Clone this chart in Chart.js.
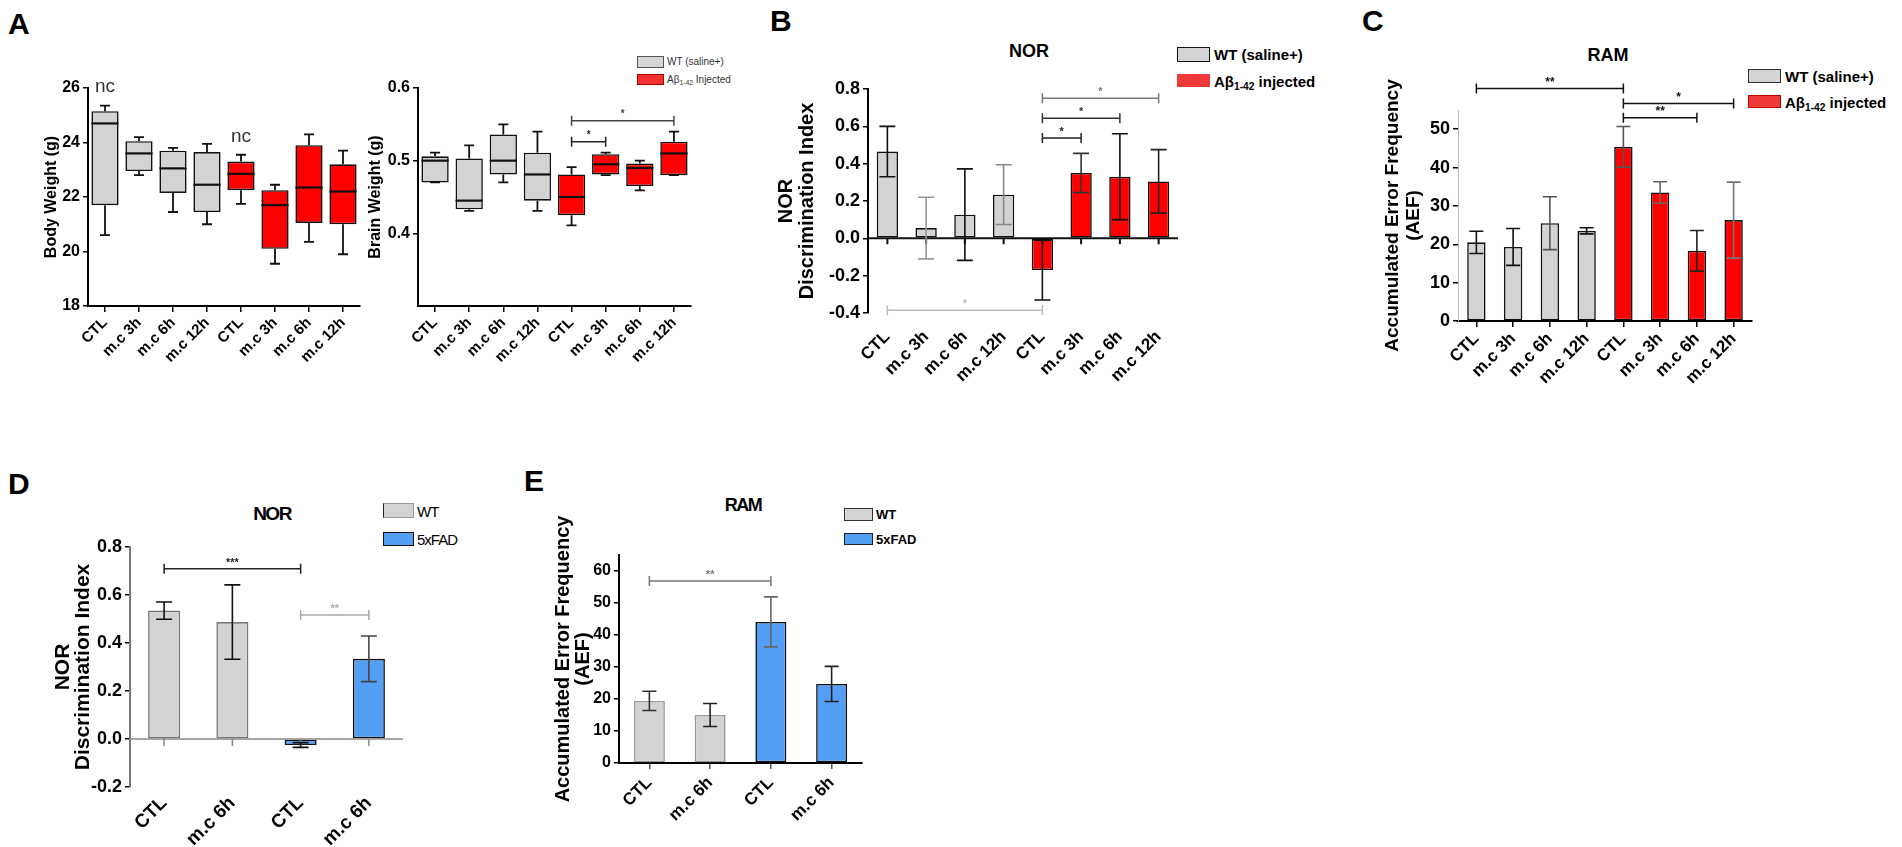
<!DOCTYPE html>
<html>
<head>
<meta charset="utf-8">
<script src="https://cdn.jsdelivr.net/npm/chart.js@4.4.1/dist/chart.umd.min.js"></script>
<style>
  body { margin: 0; width: 1902px; height: 847px; background: #fff; position: relative; overflow: hidden;
         font-family: 'Liberation Sans', Arial, sans-serif; color: #000; }
  canvas { position: absolute; }
  .t { position: absolute; line-height: 1; white-space: nowrap; }
  .letter { font-size: 30px; font-weight: bold; }
  .title { font-weight: bold; text-align: center; width: 100px; }
  .sw { position: absolute; box-sizing: border-box; }
  sub { font-size: 0.68em; vertical-align: -0.25em; line-height: 0; }
</style>
</head>
<body>

<!-- panel letters -->
<div class="t letter" style="left:8px; top:9px">A</div>
<div class="t letter" style="left:770px; top:6px">B</div>
<div class="t letter" style="left:1362px; top:6px">C</div>
<div class="t letter" style="left:8px; top:469px">D</div>
<div class="t letter" style="left:524px; top:466px">E</div>

<!-- titles -->
<div class="t title" style="left:979px; top:42px; font-size:18px">NOR</div>
<div class="t title" style="left:1558px; top:46px; font-size:18px">RAM</div>
<div class="t title" style="left:222px; top:504px; font-size:19px; letter-spacing:-1.5px">NOR</div>
<div class="t title" style="left:693px; top:496px; font-size:18px; letter-spacing:-1.5px">RAM</div>

<!-- legends -->
<div class="sw" style="left:637px; top:56px; width:27px; height:12px; background:#d6d6d6; border:1px solid #555"></div>
<div class="sw" style="left:637px; top:74px; width:27px; height:11px; background:#f23030; border:1px solid #a00"></div>
<div class="t" style="left:667px; top:57px; font-size:10px; color:#333">WT (saline+)</div>
<div class="t" style="left:667px; top:75px; font-size:10px; color:#333">Aβ<sub>1-42</sub> Injected</div>

<div class="sw" style="left:1177px; top:47px; width:33px; height:15px; background:#d3d3d3; border:1.5px solid #111"></div>
<div class="sw" style="left:1177px; top:74px; width:33px; height:13px; background:#f03a3a"></div>
<div class="t" style="left:1214px; top:47px; font-size:15px; font-weight:bold">WT (saline+)</div>
<div class="t" style="left:1214px; top:74px; font-size:15px; font-weight:bold">Aβ<sub>1-42</sub> injected</div>

<div class="sw" style="left:1748px; top:69px; width:33px; height:14px; background:#d3d3d3; border:1.5px solid #333"></div>
<div class="sw" style="left:1748px; top:95px; width:33px; height:13px; background:#f03a3a; border:1px solid #b00"></div>
<div class="t" style="left:1785px; top:69px; font-size:15px; font-weight:bold">WT (saline+)</div>
<div class="t" style="left:1785px; top:95px; font-size:15px; font-weight:bold">Aβ<sub>1-42</sub> injected</div>

<div class="sw" style="left:383px; top:503px; width:31px; height:15px; background:#d3d3d3; border:1px solid #999; border-left:1.5px solid #222"></div>
<div class="sw" style="left:383px; top:532px; width:31px; height:14px; background:#529ff5; border:1.5px solid #111"></div>
<div class="t" style="left:417px; top:504px; font-size:15px; letter-spacing:-1px">WT</div>
<div class="t" style="left:417px; top:532px; font-size:15px; letter-spacing:-1px">5xFAD</div>

<div class="sw" style="left:844px; top:508px; width:29px; height:13px; background:#d3d3d3; border:1.5px solid #333"></div>
<div class="sw" style="left:844px; top:533px; width:29px; height:12px; background:#529ff5; border:1.5px solid #222"></div>
<div class="t" style="left:876px; top:508px; font-size:13px; font-weight:bold">WT</div>
<div class="t" style="left:876px; top:533px; font-size:13px; font-weight:bold">5xFAD</div>

<canvas id="bodyChart" width="355" height="310" style="left:10px; top:70px"></canvas>
<canvas id="brainChart" width="330" height="310" style="left:365px; top:70px"></canvas>
<canvas id="norChart" width="410" height="330" style="left:770px; top:60px"></canvas>
<canvas id="ramChart" width="395" height="350" style="left:1360px; top:40px"></canvas>
<canvas id="nor5xChart" width="386" height="347" style="left:20px; top:500px"></canvas>
<canvas id="ram5xChart" width="345" height="352" style="left:520px; top:495px"></canvas>

<script>
// ---- data ----
const groupLabels = ['CTL', 'm.c 3h', 'm.c 6h', 'm.c 12h', 'CTL', 'm.c 3h', 'm.c 6h', 'm.c 12h'];
const fadLabels = ['CTL', 'm.c 6h', 'CTL', 'm.c 6h'];

// A: body weight box plots (g)
const bodyMin = [20.6, 22.8, 21.45, 21.0, 21.75, 19.55, 20.35, 19.9];
const bodyQ1  = [21.7, 22.95, 22.15, 21.45, 22.25, 20.1, 21.05, 21.0];
const bodyMed = [24.7, 23.6, 23.05, 22.45, 22.85, 21.7, 22.35, 22.2];
const bodyQ3  = [25.15, 24.05, 23.7, 23.65, 23.3, 22.25, 23.9, 23.2];
const bodyMax = [25.35, 24.2, 23.8, 23.95, 23.55, 22.45, 24.3, 23.7];
const bodyNotes = [[0, 26.05, 'nc'], [4, 24.2, 'nc']];
const bodyTicks = [18, 20, 22, 24, 26];

// A: brain weight box plots (g)
const brainMin = [0.470, 0.431, 0.470, 0.431, 0.411, 0.480, 0.459, 0.480];
const brainQ1  = [0.470, 0.433, 0.481, 0.445, 0.425, 0.481, 0.465, 0.480];
const brainMed = [0.500, 0.445, 0.500, 0.481, 0.450, 0.495, 0.490, 0.510];
const brainQ3  = [0.506, 0.503, 0.536, 0.511, 0.481, 0.509, 0.496, 0.526];
const brainMax = [0.511, 0.521, 0.550, 0.540, 0.491, 0.511, 0.500, 0.540];
const brainSig = [[4, 5, 0.526, '*'], [4, 7, 0.555, '*']];
const brainTicks = [0.4, 0.5, 0.6];

// B: NOR discrimination index, mean and SEM
const norWT = [0.465, 0.055, 0.127, 0.234];
const norWTErr = [0.135, 0.165, 0.245, 0.16];
const norAB = [-0.17, 0.35, 0.33, 0.305];
const norABErr = [0.16, 0.105, 0.23, 0.17];
const norSig = [[0, 4, -0.385, '*'], [4, 5, 0.537, '*'], [4, 6, 0.643, '*'], [4, 7, 0.75, '*']];
const norTicks = [-0.4, -0.2, 0, 0.2, 0.4, 0.6, 0.8];

// C: RAM accumulated error frequency
const ramWT = [20.5, 19.3, 25.5, 23.5];
const ramWTErr = [2.9, 4.8, 6.9, 0.8];
const ramAB = [45.4, 33.5, 18.3, 26.3];
const ramABErr = [5.3, 2.8, 5.3, 9.9];
const ramSig = [[0, 4, 60.6, '**'], [4, 7, 56.7, '*'], [4, 6, 53.0, '**']];
const ramTicks = [0, 10, 20, 30, 40, 50];

// D: NOR in 5xFAD
const nor5xWT = [0.535, 0.487];
const nor5xWTErr = [0.036, 0.155];
const nor5xFAD = [-0.025, 0.334];
const nor5xFADErr = [0.01, 0.095];
const nor5xSig = [[0, 2, 0.709, '***'], [2, 3, 0.517, '**']];
const nor5xTicks = [-0.2, 0, 0.2, 0.4, 0.6, 0.8];

// E: RAM in 5xFAD
const ram5xWT = [19.4, 15.0];
const ram5xWTErr = [3.0, 3.6];
const ram5xFAD = [44.1, 24.7];
const ram5xFADErr = [7.8, 5.5];
const ram5xSig = [[0, 2, 56.9, '**']];
const ram5xTicks = [0, 10, 20, 30, 40, 50, 60];

// ---- styles ----
const FONT = "'Liberation Sans', Arial, sans-serif";
const GREY = '#d3d3d3';
const RED = '#ff0000';
const BLUE = '#529ff5';

// pad a group's values out to the full category list
function place(values, start, total) {
  const out = new Array(total).fill(null);
  values.forEach((v, i) => { out[start + i] = v; });
  return out;
}

// error bars, whiskers, brackets, zero line and notes
const extras = {
  id: 'extras',
  afterDatasetsDraw(chart, args, opts) {
    const ctx = chart.ctx;
    const xs = chart.scales.x, ys = chart.scales.y;
    const area = chart.chartArea;
    ctx.save();
    ctx.lineCap = 'butt';

    if (opts.zeroLine) {
      const y0 = ys.getPixelForValue(0);
      ctx.strokeStyle = opts.zeroLine.color;
      ctx.lineWidth = opts.zeroLine.width;
      ctx.beginPath();
      ctx.moveTo(area.left, y0);
      ctx.lineTo(area.right, y0);
      chart.data.labels.forEach((l, i) => {
        const px = xs.getPixelForValue(i);
        ctx.moveTo(px, y0);
        ctx.lineTo(px, y0 + opts.zeroLine.tick);
      });
      ctx.stroke();
    }

    const cap = opts.cap || 5;
    chart.data.datasets.forEach((ds, di) => {
      const meta = chart.getDatasetMeta(di);
      meta.data.forEach((bar, i) => {
        const v = ds.data[i];
        if (v === null || v === undefined) return;
        const cx = bar.x;
        ctx.beginPath();
        if (ds.errors) {
          const e = ds.errors[i];
          const top = ys.getPixelForValue(v + e), bot = ys.getPixelForValue(v - e);
          ctx.strokeStyle = (ds.errColors && ds.errColors[i]) || '#111';
          ctx.lineWidth = 1.6;
          ctx.moveTo(cx, top); ctx.lineTo(cx, bot);
          ctx.moveTo(cx - cap, top); ctx.lineTo(cx + cap, top);
          ctx.moveTo(cx - cap, bot); ctx.lineTo(cx + cap, bot);
          ctx.stroke();
        }
        if (ds.whiskers) {
          const w = ds.whiskers;
          const pMin = ys.getPixelForValue(w.min[i]), pMax = ys.getPixelForValue(w.max[i]);
          const pQ1 = ys.getPixelForValue(v[0]), pQ3 = ys.getPixelForValue(v[1]);
          const pMed = ys.getPixelForValue(w.med[i]);
          const half = bar.width / 2;
          ctx.strokeStyle = '#111';
          ctx.lineWidth = 1.8;
          ctx.moveTo(cx, pQ3); ctx.lineTo(cx, pMax);
          ctx.moveTo(cx - cap, pMax); ctx.lineTo(cx + cap, pMax);
          ctx.moveTo(cx, pQ1); ctx.lineTo(cx, pMin);
          ctx.moveTo(cx - cap, pMin); ctx.lineTo(cx + cap, pMin);
          ctx.stroke();
          ctx.beginPath();
          ctx.lineWidth = 2.2;
          ctx.moveTo(cx - half, pMed); ctx.lineTo(cx + half, pMed);
          ctx.stroke();
        }
      });
    });

    (opts.brackets || []).forEach((b, k) => {
      const x1 = xs.getPixelForValue(b[0]), x2 = xs.getPixelForValue(b[1]);
      const py = ys.getPixelForValue(b[2]);
      const col = (opts.bracketColors && opts.bracketColors[k]) || '#111';
      ctx.strokeStyle = col;
      ctx.lineWidth = 1.5;
      ctx.beginPath();
      ctx.moveTo(x1, py); ctx.lineTo(x2, py);
      ctx.moveTo(x1, py - 5); ctx.lineTo(x1, py + 5);
      ctx.moveTo(x2, py - 5); ctx.lineTo(x2, py + 5);
      ctx.stroke();
      ctx.fillStyle = col;
      ctx.font = 'bold ' + (opts.starSize || 12) + 'px ' + FONT;
      ctx.textAlign = 'center';
      ctx.textBaseline = 'alphabetic';
      ctx.fillText(b[3], (x1 + x2) / 2, py - 1 + (opts.starSize || 12) * 0.35 - 6);
    });

    (opts.notes || []).forEach(n => {
      ctx.fillStyle = '#333';
      ctx.font = '19px ' + FONT;
      ctx.textAlign = 'center';
      ctx.textBaseline = 'middle';
      ctx.fillText(n[2], xs.getPixelForValue(n[0]), ys.getPixelForValue(n[1]));
    });
    ctx.restore();
  }
};

function axisY(o) {
  return {
    min: o.min, max: o.max,
    afterBuildTicks: s => { s.ticks = o.ticks.map(v => ({ value: v })); },
    afterFit: s => { s.width = o.width; },
    ticks: {
      color: '#000', padding: 3, font: o.tickFont,
      callback: v => (o.digits ? Number(v).toFixed(o.digits) : String(v))
    },
    grid: { drawOnChartArea: false, tickLength: 5, color: o.tickColor || '#000', lineWidth: 1.5 },
    border: { color: o.borderColor || '#000', width: o.borderWidth || 2 },
    title: {
      display: true, text: o.title, color: '#000', font: o.titleFont,
      padding: { top: o.titlePad, bottom: 0 }
    }
  };
}

function axisX(o) {
  return {
    offset: true,
    afterFit: s => { s.height = o.height; },
    ticks: { color: '#000', font: o.font, maxRotation: 45, minRotation: 45, autoSkip: false, padding: o.pad },
    grid: o.zero ? { display: false } :
      { offset: false, drawOnChartArea: false, tickLength: 6, color: o.tickColor || '#000', lineWidth: 1.5 },
    border: { display: !o.zero, color: '#000', width: 2 }
  };
}

function baseOptions(x, y, pad, plugin) {
  return {
    responsive: false,
    animation: false,
    layout: { padding: { top: pad.top, right: pad.right, left: 0, bottom: 0 } },
    plugins: { legend: { display: false }, tooltip: { enabled: false }, extras: plugin },
    scales: { x: x, y: y }
  };
}

function boxSet(label, q1, q3, min, med, max, start, color) {
  const n = 4;
  const boxes = q1.map((q, i) => [q, q3[i]]).slice(start, start + n);
  return {
    label: label,
    data: place(boxes, start, q1.length),
    whiskers: { min: min, med: med, max: max },
    backgroundColor: color, borderColor: '#111', borderWidth: 1.6, borderSkipped: false,
    barPercentage: 0.8, categoryPercentage: 1, grouped: false
  };
}

function barSet(label, values, errs, start, total, color, border, errColors, pct) {
  return {
    label: label,
    data: place(values, start, total),
    errors: place(errs, start, total),
    errColors: place(errColors, start, total),
    backgroundColor: color, borderColor: border, borderWidth: 1.6, borderSkipped: false,
    barPercentage: pct, categoryPercentage: 1, grouped: false
  };
}

// ---- A: body weight ----
new Chart(document.getElementById('bodyChart'), {
  type: 'bar',
  data: {
    labels: groupLabels,
    datasets: [
      boxSet('WT (saline+)', bodyQ1, bodyQ3, bodyMin, bodyMed, bodyMax, 0, GREY),
      boxSet('Aβ1-42 injected', bodyQ1, bodyQ3, bodyMin, bodyMed, bodyMax, 4, RED)
    ]
  },
  options: baseOptions(
    axisX({ height: 74, pad: 2, font: { family: FONT, size: 15, weight: 'bold' } }),
    axisY({ min: 18, max: 26, ticks: bodyTicks, width: 78, title: 'Body Weight (g)',
            tickFont: { family: FONT, size: 16, weight: 'bold' },
            titleFont: { family: FONT, size: 16, weight: 'bold' }, titlePad: 32 }),
    { top: 18, right: 5 },
    { cap: 5, notes: bodyNotes }
  ),
  plugins: [extras]
});

// ---- A: brain weight ----
new Chart(document.getElementById('brainChart'), {
  type: 'bar',
  data: {
    labels: groupLabels,
    datasets: [
      boxSet('WT (saline+)', brainQ1, brainQ3, brainMin, brainMed, brainMax, 0, GREY),
      boxSet('Aβ1-42 injected', brainQ1, brainQ3, brainMin, brainMed, brainMax, 4, RED)
    ]
  },
  options: baseOptions(
    axisX({ height: 74, pad: 2, font: { family: FONT, size: 15, weight: 'bold' } }),
    axisY({ min: 0.3, max: 0.6, ticks: brainTicks, digits: 1, width: 53, title: 'Brain Weight (g)',
            tickFont: { family: FONT, size: 16, weight: 'bold' },
            titleFont: { family: FONT, size: 16, weight: 'bold' }, titlePad: 1 }),
    { top: 18, right: 4 },
    { cap: 5, brackets: brainSig, bracketColors: ['#222', '#444'], starSize: 10 }
  ),
  plugins: [extras]
});

// ---- B: NOR ----
new Chart(document.getElementById('norChart'), {
  type: 'bar',
  data: {
    labels: groupLabels,
    datasets: [
      barSet('WT (saline+)', norWT, norWTErr, 0, 8, GREY, '#111', ['#111', '#999', '#111', '#888'], 0.55),
      barSet('Aβ1-42 injected', norAB, norABErr, 4, 8, RED, '#111', ['#111', '#333', '#111', '#222'], 0.55)
    ]
  },
  options: baseOptions(
    axisX({ height: 77, pad: 6, zero: true, font: { family: FONT, size: 17, weight: 'bold' } }),
    axisY({ min: -0.4, max: 0.8, ticks: norTicks, digits: 1, width: 98,
            title: ['NOR', 'Discrimination Index'],
            tickFont: { family: FONT, size: 18, weight: 'bold' },
            titleFont: { family: FONT, size: 20, weight: 'bold', lineHeight: 1.05 }, titlePad: 6 }),
    { top: 29, right: 2 },
    { cap: 8, zeroLine: { color: '#111', width: 2, tick: 6 }, brackets: norSig,
      bracketColors: ['#bbb', '#222', '#333', '#777'], starSize: 11 }
  ),
  plugins: [extras]
});

// ---- C: RAM ----
new Chart(document.getElementById('ramChart'), {
  type: 'bar',
  data: {
    labels: groupLabels,
    datasets: [
      barSet('WT (saline+)', ramWT, ramWTErr, 0, 8, GREY, '#111', ['#111', '#111', '#555', '#111'], 0.5),
      barSet('Aβ1-42 injected', ramAB, ramABErr, 4, 8, RED, '#111', ['#555', '#666', '#222', '#777'], 0.5)
    ]
  },
  options: baseOptions(
    axisX({ height: 69, pad: 2, font: { family: FONT, size: 17, weight: 'bold' } }),
    axisY({ min: 0, max: 55, ticks: ramTicks, width: 98, borderColor: '#bbb', borderWidth: 1,
            title: ['Accumulated Error Frequency', '(AEF)'],
            tickFont: { family: FONT, size: 18, weight: 'bold' },
            titleFont: { family: FONT, size: 19, weight: 'bold', lineHeight: 1.1 }, titlePad: 22 }),
    { top: 70, right: 3 },
    { cap: 7, brackets: ramSig, bracketColors: ['#111', '#111', '#111'], starSize: 12 }
  ),
  plugins: [extras]
});

// ---- D: NOR 5xFAD ----
new Chart(document.getElementById('nor5xChart'), {
  type: 'bar',
  data: {
    labels: fadLabels,
    datasets: [
      barSet('WT', nor5xWT, nor5xWTErr, 0, 4, GREY, '#777', ['#111', '#111'], 0.47),
      barSet('5xFAD', nor5xFAD, nor5xFADErr, 2, 4, BLUE, '#111', ['#111', '#444'], 0.47)
    ]
  },
  options: baseOptions(
    axisX({ height: 60, pad: -3, zero: true, font: { family: FONT, size: 19, weight: 'bold' } }),
    axisY({ min: -0.2, max: 0.8, ticks: nor5xTicks, digits: 1, width: 110, borderColor: '#777',
            title: ['NOR', 'Discrimination Index'],
            tickFont: { family: FONT, size: 18, weight: 'bold' },
            titleFont: { family: FONT, size: 21, weight: 'bold', lineHeight: 0.95 }, titlePad: 33 }),
    { top: 47, right: 3 },
    { cap: 8, zeroLine: { color: '#888', width: 1.5, tick: 7 }, brackets: nor5xSig,
      bracketColors: ['#222', '#aaa'], starSize: 11 }
  ),
  plugins: [extras]
});

// ---- E: RAM 5xFAD ----
new Chart(document.getElementById('ram5xChart'), {
  type: 'bar',
  data: {
    labels: fadLabels,
    datasets: [
      barSet('WT', ram5xWT, ram5xWTErr, 0, 4, GREY, '#999', ['#333', '#222'], 0.51),
      barSet('5xFAD', ram5xFAD, ram5xFADErr, 2, 4, BLUE, '#111', ['#666', '#222'], 0.51)
    ]
  },
  options: baseOptions(
    axisX({ height: 84, pad: 4, tickColor: '#555', font: { family: FONT, size: 17, weight: 'bold' } }),
    axisY({ min: 0, max: 65, ticks: ram5xTicks, width: 99,
            title: ['Accumulated Error Frequency', '(AEF)'],
            tickFont: { family: FONT, size: 16, weight: 'bold' },
            titleFont: { family: FONT, size: 20, weight: 'bold', lineHeight: 1.0 }, titlePad: 33 }),
    { top: 60, right: 3 },
    { cap: 7, brackets: ram5xSig, bracketColors: ['#777'], starSize: 11 }
  ),
  plugins: [extras]
});
</script>
</body>
</html>
